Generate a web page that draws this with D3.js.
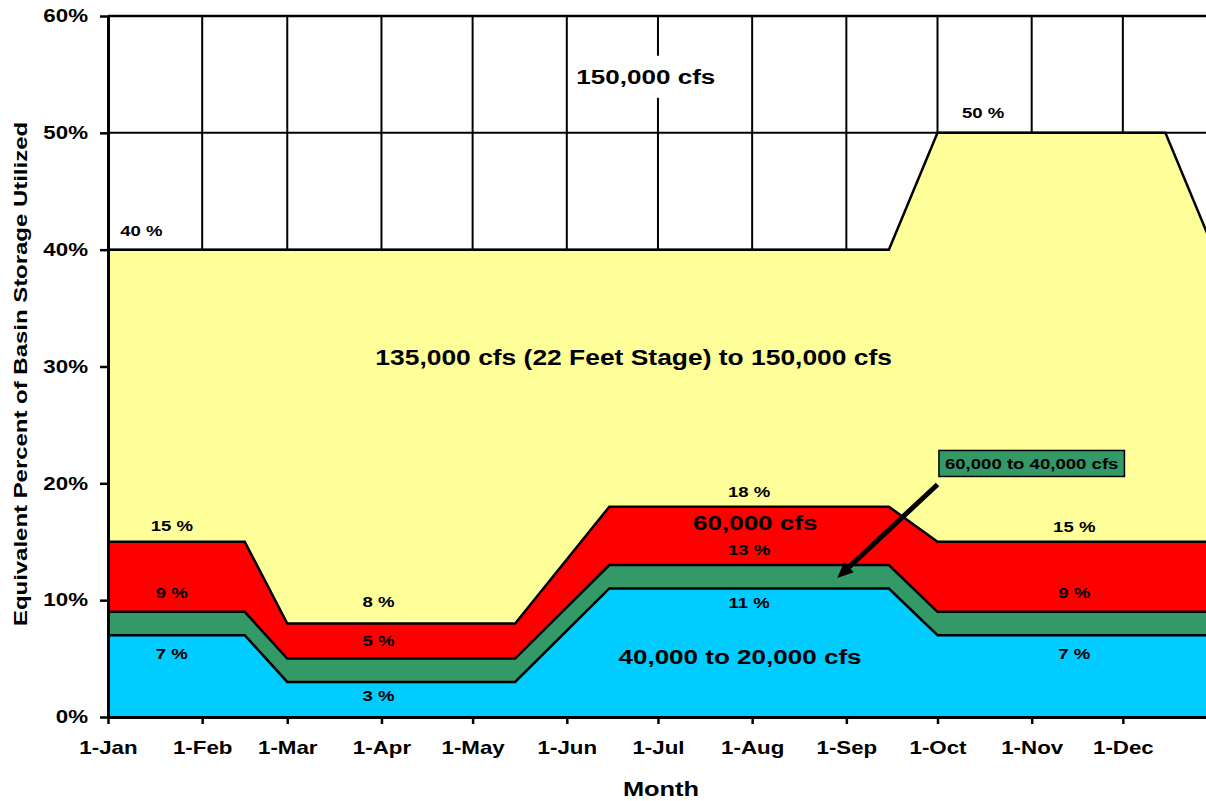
<!DOCTYPE html>
<html>
<head>
<meta charset="utf-8">
<script src="https://cdn.jsdelivr.net/npm/d3@7"></script>
<style>
    body { margin: 0; background: #fff; overflow: hidden; }
    svg { display: block; font-family: 'Liberation Sans', Arial, sans-serif; font-weight: bold; }
</style>
</head>
<body>
<div id="chart"></div>
<script>

// DATA

const dates = ['2001-01-01', '2001-02-15', '2001-03-01', '2001-05-15', '2001-06-15',
    '2001-09-15', '2001-10-01', '2001-12-15', '2001-12-31'];
const blueTop = [7, 7, 3, 3, 11, 11, 7, 7, 7];
const greenTop = [9, 9, 5, 5, 13, 13, 9, 9, 9];
const redTop = [15, 15, 8, 8, 18, 18, 15, 15, 15];
const yellowTop = [40, 40, 40, 40, 40, 40, 50, 50, 40];

const monthTicks = ['2001-01-01', '2001-02-01', '2001-03-01', '2001-04-01', '2001-05-01', '2001-06-01',
    '2001-07-01', '2001-08-01', '2001-09-01', '2001-10-01', '2001-11-01', '2001-12-01'];
const yTicks = [0, 10, 20, 30, 40, 50, 60];

// labels: [text, date, value, font size]
const labels = [
    ['40 %', '2001-01-12', 41.6, 15],
    ['50 %', '2001-10-16', 51.7, 15],
    ['150,000 cfs', '2001-06-27', 54.8, 21],
    ['135,000 cfs (22 Feet Stage) to 150,000 cfs', '2001-06-23', 30.8, 21.3],
    ['15 %', '2001-01-22', 16.35, 15],
    ['9 %', '2001-01-22', 10.6, 15],
    ['7 %', '2001-01-22', 5.4, 15],
    ['8 %', '2001-03-31', 9.9, 15],
    ['5 %', '2001-03-31', 6.5, 15],
    ['3 %', '2001-03-31', 1.8, 15],
    ['18 %', '2001-07-31', 19.3, 15],
    ['60,000 cfs', '2001-08-02', 16.6, 21],
    ['13 %', '2001-07-31', 14.3, 15],
    ['11 %', '2001-07-31', 9.8, 15],
    ['40,000 to 20,000 cfs', '2001-07-28', 5.2, 21],
    ['15 %', '2001-11-15', 16.3, 15],
    ['9 %', '2001-11-15', 10.6, 15],
    ['7 %', '2001-11-15', 5.4, 15]
];

const callout = { text: '60,000 to 40,000 cfs', date: '2001-11-01', value: 21.7 };
const arrowFrom = { date: '2001-10-01', value: 19.9 };
const arrowTo = { date: '2001-08-29', value: 11.9 };

// CHART

const parse = d3.timeParse('%Y-%m-%d');
const width = 1206;
const height = 801;
const margin = {top: 16, left: 108, bottom: 84};
const plotRight = 1214;
const wide = 1.24;   // the original type is set wide

const svg = d3.select('#chart')
    .append('svg')
        .attr('width', width)
        .attr('height', height);

const x = d3.scaleTime()
    .domain([parse('2001-01-01'), parse('2001-12-31')])
    .range([margin.left, plotRight]);
const y = d3.scaleLinear()
    .domain([0, 60])
    .range([height - margin.bottom, margin.top]);

// stretch text sideways around its anchor
function widen(sel, s = wide, rot = 0) {
    sel.each(function() {
        const t = d3.select(this);
        const tx = +t.attr('x') || 0;
        const ty = +t.attr('y') || 0;
        t.attr('x', 0).attr('y', 0)
            .attr('transform', `translate(${tx},${ty}) rotate(${rot}) scale(${s},1)`);
    });
}

// grid
svg.append('g')
    .selectAll('line')
    .data(monthTicks.slice(1))
    .join('line')
        .attr('x1', d => x(parse(d)))
        .attr('x2', d => x(parse(d)))
        .attr('y1', y(0))
        .attr('y2', y(60))
        .attr('stroke', '#000')
        .attr('stroke-width', 2);
svg.append('g')
    .selectAll('line')
    .data(yTicks.slice(1))
    .join('line')
        .attr('x1', x.range()[0])
        .attr('x2', x.range()[1])
        .attr('y1', d => y(d))
        .attr('y2', d => y(d))
        .attr('stroke', '#000')
        .attr('stroke-width', d => d === 60 ? 2.5 : 2);

// bands
const pts = dates.map(parse);
const layers = [
    {top: yellowTop, color: '#FFFF99'},
    {top: redTop, color: '#FF0000'},
    {top: greenTop, color: '#339966'},
    {top: blueTop, color: '#00CCFF'}
];
const area = d3.area()
    .x((d, i) => x(pts[i]))
    .y0(y(0))
    .y1(d => y(d));
const line = d3.line()
    .x((d, i) => x(pts[i]))
    .y(d => y(d));

layers.forEach(l => {
    svg.append('path')
        .datum(l.top)
            .attr('fill', l.color)
            .attr('d', area);
    svg.append('path')
        .datum(l.top)
            .attr('fill', 'none')
            .attr('stroke', '#000')
            .attr('stroke-width', 2.5)
            .attr('d', line);
});

// axes
svg.append('g')
    .attr('transform', `translate(0,${y(0)})`)
    .call(d3.axisBottom(x)
        .tickValues(monthTicks.map(parse))
        .tickFormat(d3.timeFormat('1-%b'))
        .tickSizeInner(7)
        .tickSizeOuter(0)
        .tickPadding(17))
    .call(g => g.select('.domain').attr('stroke-width', 3))
    .call(g => g.selectAll('.tick line').attr('stroke-width', 2.5))
    .call(g => g.selectAll('text')
        .attr('font-size', 18)
        .attr('font-family', 'Liberation Sans, Arial, sans-serif')
        .attr('font-weight', 'bold')
        .attr('fill', '#000')
        .call(widen));

svg.append('g')
    .attr('transform', `translate(${margin.left},0)`)
    .call(d3.axisLeft(y)
        .tickValues(yTicks)
        .tickFormat(d => d + '%')
        .tickSizeInner(8)
        .tickSizeOuter(0)
        .tickPadding(12))
    .call(g => g.select('.domain').attr('stroke-width', 3))
    .call(g => g.selectAll('.tick line').attr('stroke-width', 2.5))
    .call(g => g.selectAll('text')
        .attr('font-size', 18)
        .attr('font-family', 'Liberation Sans, Arial, sans-serif')
        .attr('font-weight', 'bold')
        .attr('fill', '#000')
        .call(widen));

// axis titles
svg.append('text')
    .attr('x', 27)
    .attr('y', 374)
    .attr('text-anchor', 'middle')
    .attr('font-size', 19)
    .text('Equivalent Percent of Basin Storage Utilized')
    .call(widen, 1.26, -90);
svg.append('text')
    .attr('x', 661)
    .attr('y', 796)
    .attr('text-anchor', 'middle')
    .attr('font-size', 20.5)
    .text('Month')
    .call(widen);

// labels
const bgLayer = svg.append('g');
const lab = svg.append('g')
    .selectAll('text')
    .data(labels)
    .join('text')
        .attr('x', d => x(parse(d[1])))
        .attr('y', d => y(d[2]))
        .attr('dy', '0.35em')
        .attr('text-anchor', 'middle')
        .attr('font-size', d => d[3])
        .text(d => d[0])
        .call(widen);

// white box behind the 150,000 label
const topLab = lab.filter(d => d[0] === '150,000 cfs');
const bb = topLab.node().getBBox();
const td = topLab.datum();
bgLayer.append('rect')
    .attr('x', x(parse(td[1])) - bb.width * wide / 2 - 6)
    .attr('y', y(td[2]) - 21)
    .attr('width', bb.width * wide + 12)
    .attr('height', 42)
    .attr('fill', '#fff');

// callout arrow
const ax = x(parse(arrowTo.date));
const ay = y(arrowTo.value);
const fx = x(parse(arrowFrom.date));
const fy = y(arrowFrom.value);
const ang = Math.atan2(fy - ay, fx - ax);
const hl = 16, hw = 7;
const bx = ax + hl * Math.cos(ang), by = ay + hl * Math.sin(ang);
svg.append('line')
    .attr('x1', fx)
    .attr('y1', fy)
    .attr('x2', bx)
    .attr('y2', by)
    .attr('stroke', '#000')
    .attr('stroke-width', 5);
svg.append('path')
    .attr('d', `M${ax},${ay}L${bx - hw * Math.sin(ang)},${by + hw * Math.cos(ang)}L${bx + hw * Math.sin(ang)},${by - hw * Math.cos(ang)}Z`)
    .attr('fill', '#000');

// callout box
const cg = svg.append('g');
const cx = x(parse(callout.date));
const cy = y(callout.value);
const cbox = cg.append('rect');
const ct = cg.append('text')
    .attr('x', cx)
    .attr('y', cy)
    .attr('dy', '0.35em')
    .attr('text-anchor', 'middle')
    .attr('font-size', 15)
    .text(callout.text)
    .call(widen);
const cw = ct.node().getBBox().width * wide;
cbox
    .attr('x', cx - cw / 2 - 6)
    .attr('y', cy - 13)
    .attr('width', cw + 12)
    .attr('height', 26)
    .attr('fill', '#339966')
    .attr('stroke', '#000')
    .attr('stroke-width', 1.5);

</script>
</body>
</html>
